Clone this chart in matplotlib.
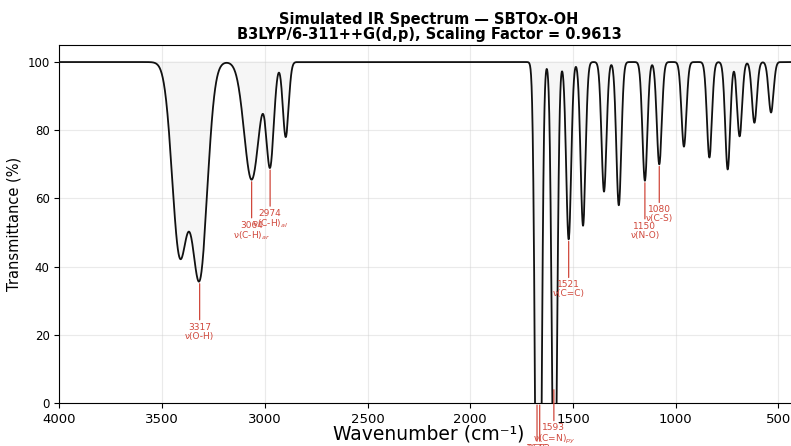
import numpy as np
import matplotlib
matplotlib.use('Agg')
import matplotlib.pyplot as plt

# peak centres (cm-1), band depth (% T), gaussian width sigma (cm-1)
peak_pos = [3414, 3317, 3064, 2974, 2898,
            1675, 1662, 1590, 1521, 1451, 1349, 1277,
            1150, 1080, 960, 836, 747, 689, 617, 536]
peak_depth = [55.5, 62.4, 34.5, 29.5, 22.0,
              125, 125, 145, 52.0, 48.0, 38.0, 42.0,
              34.8, 30.0, 24.8, 28.0, 31.5, 21.8, 17.8, 14.8]
peak_width = [37, 37, 36, 18, 14,
              11, 11, 12, 12, 12, 12, 12,
              12, 12, 12, 12, 12, 12, 12, 12]

# labelled bands
label_pos = [3317, 3064, 2974, 1675, 1662, 1593, 1521, 1150, 1080]
label_txt = ['3317\nν(O-H)', '3064\nν(C-H)$_{ar}$', '2974\nν(C-H)$_{al}$',
             '1675\nν(C=O)', '1662\nν(C=N)', '1593\nν(C=N)$_{py}$',
             '1521\nν(C=C)', '1150\nν(N-O)', '1080\nν(C-S)']

red = '#d0483c'

x = np.linspace(400, 4000, 7201)
T = np.full_like(x, 100.0)
for c, d, s in zip(peak_pos, peak_depth, peak_width):
    T -= d * np.exp(-0.5 * ((x - c) / s) ** 2)

fig = plt.figure(figsize=(7.91, 4.46), dpi=100)
ax = fig.add_axes([59.3 / 791, 1 - 403 / 446, 739.7 / 791, 358 / 446])

ax.fill_between(x, T, 100, color='#f6f6f6', zorder=1)
ax.plot(x, T, color='#111111', lw=1.3, zorder=3)

for wn, txt in zip(label_pos, label_txt):
    i = np.argmin(np.abs(x - wn))
    j = i - 20 + np.argmin(T[i - 20:i + 21])   # local minimum near the label
    y0 = max(T[j], 0)
    dy = 12
    if wn == 1593:
        y0, dy = 4.5, 10.5
    ax.annotate(txt, xy=(wn, y0), xytext=(wn, y0 - dy),
                ha='center', va='top', fontsize=6.5, color=red,
                linespacing=1.0, annotation_clip=False,
                arrowprops=dict(arrowstyle='-', color=red, lw=0.9,
                                shrinkA=0, shrinkB=1.5))

ax.set_xlim(4000, 400)
ax.set_ylim(0, 105)
ax.set_xticks(np.arange(4000, 499, -500))
ax.set_yticks(np.arange(0, 101, 20))
ax.tick_params(axis='x', labelsize=9.5)
ax.tick_params(axis='y', labelsize=8.5)
ax.grid(True, color='#cccccc', alpha=0.4, lw=0.8)
ax.set_xlabel('Wavenumber (cm⁻¹)', fontsize=13.5, labelpad=-1)
ax.set_ylabel('Transmittance (%)', fontsize=10.5)
ax.set_title('Simulated IR Spectrum — SBTOx-OH\nB3LYP/6-311++G(d,p), Scaling Factor = 0.9613',
             fontsize=10.5, fontweight='bold', linespacing=1.0, pad=4)

fig.savefig('out.png', dpi=100)
